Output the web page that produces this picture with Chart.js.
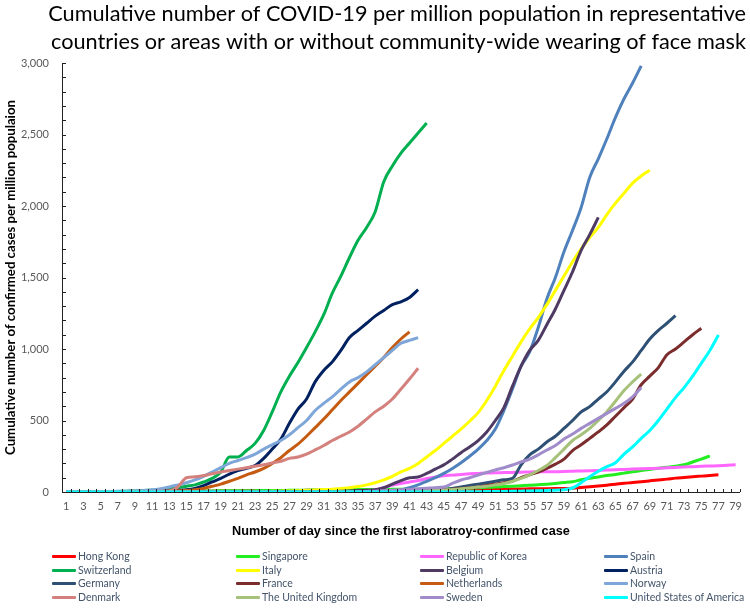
<!DOCTYPE html>
<html>
<head>
<meta charset="utf-8">
<script src="https://cdn.jsdelivr.net/npm/chart.js@4.4.1/dist/chart.umd.min.js"></script>
<style>
  html, body { margin: 0; padding: 0; background: #fff; }
  #wrap { position: relative; width: 750px; height: 608px; }
  #c { position: absolute; left: 0; top: 0; }
  #legend { position: absolute; left: 0; top: 0; width: 750px; height: 608px; pointer-events: none; }
  .item { position: absolute; display: flex; align-items: center; white-space: nowrap; color: #44546a; }
  .swatch { width: 24px; height: 3px; margin-right: 2px; border-radius: 1px; }
</style>
</head>
<body>
<div id="wrap">
  <canvas id="c" width="750" height="608"></canvas>
  <div id="legend"></div>
</div>
<script>
// ---------------- DATA ----------------
const dayLabels = ['1','2','3','4','5','6','7','8','9','10','11','12','13','14','15','16','17','18','19','20',
  '21','22','23','24','25','26','27','28','29','30','31','32','33','34','35','36','37','38','39','40',
  '41','42','43','44','45','46','47','48','49','50','51','52','53','54','55','56','57','58','59','60',
  '61','62','63','64','65','66','67','68','69','70','71','72','73','74','75','76','77','78','79'];

const seriesNames = ['Hong Kong','Singapore','Republic of Korea','Spain','Switzerland','Italy','Belgium','Austria',
  'Germany','France','Netherlands','Norway','Denmark','The United Kingdom','Sweden','United States of America'];

const seriesColors = ['#ff0000','#22ee22','#ff66ff','#4f81bd','#00b050','#ffff00','#4e3a63','#002060',
  '#2f5075','#7b2c2c','#c55a11','#7ea6d8','#d4807d','#a6c27a','#a18ccb','#00ffff'];

const hongKong = [0.1,0.3,0.7,1,1.1,1.3,1.6,2,2.2,2.5, 3,3.5,3.8,4.2,4.5,5,5.5,6,6.5,7,
  7.5,8,8.5,9,9.5,10,10.5,11,11.5,12, 12.5,13,13.5,14,14.5,15,15,15.5,16,16,
  16.5,17,17,17.5,18,18,18.5,19,19.5,20, 20,20,21,21,22,22,23,24,25,27,
  32,37,42,48,54,61,66,72,78,84, 90,97,102,107,111,115,120];

const singapore = [0.2,0.5,0.5,0.7,0.7,1,1.2,1.5,2,2.5, 3,3.5,4.5,5,5.5,6.5,7,7.5,8,8.5,
  9,9,9.5,10,10.5,11,11.5,12,13,14, 15,15.5,16,16.5,17,17,17.5,18,18.5,19,
  19.5,20,21,22,23,24,26,28,30,33, 35,38,41,44,47,51,55,60,66,72,
  85,96,105,115,123,132,141,150,158,166, 173,180,190,210,230,252];

const korea = [0,0,0,0.1,0.1,0.1,0.1,0.2,0.2,0.2, 0.3,0.3,0.4,0.5,0.5,0.5,0.5,0.5,0.5,0.5,
  0.5,0.5,0.6,0.6,0.6,0.6,0.6,0.6,0.6,0.6, 1,2,3,4,6,10,15,30,48,60,
  70,80,95,105,113,118,123,127,130,133, 134,136,137,138,140,141,141,142,143,145,
  147,149,151,153,155,158,160,162,164,166, 169,172,175,177,180,182,184,187,190];

const spain = [0,0,0,0,0,0,0,0,0,0, 0,0,0,0,0,0,0,0,0,0,
  0.05,0.05,0.05,0.05,0.05,0.05,0.05,0.05,0.05,0.05, 0.1,0.2,0.3,0.5,1,2,3,5,8,15,
  30,50,75,100,130,165,205,250,300,360, 440,570,720,880,980,1150,1350,1500,1680,1830,
  1990,2200,2330,2470,2620,2750,2860,2980];

const switzerland = [0.1,0.1,1,1.5,2,2.5,4,6,7,10, 13,16,22,30,40,50,70,95,140,245,
  245,290,340,430,560,700,810,905,1010,1120, 1240,1390,1510,1640,1760,1850,1960,2170,2280,2370,
  2440,2510,2580];

const italy = [0.05,0.05,0.05,0.05,0.05,0.05,0.05,0.05,0.05,0.05, 0.05,0.05,0.05,0.05,0.05,0.05,0.05,0.05,0.05,0.05,
  0.3,1,2,3,5,6,7,9,11,14, 17,20,25,30,38,50,65,85,110,140,
  165,200,245,290,340,390,440,495,555,640, 740,850,950,1050,1140,1220,1310,1410,1510,1610,
  1700,1780,1850,1940,2020,2090,2160,2210,2250];

const belgium = [0.09,0.09,0.09,0.09,0.09,0.09,0.09,0.09,0.09,0.09, 0.09,0.09,0.09,0.09,0.09,0.09,0.09,0.09,0.09,0.09,
  0.09,0.09,0.09,0.09,0.09,0.1,0.2,0.5,0.7,1, 2,3,5,7,10,12,15,30,55,80,
  100,105,130,160,190,230,275,315,360,420, 500,590,740,880,990,1060,1170,1280,1410,1540,
  1690,1800,1920];

const austria = [0.2,0.2,0.5,0.6,1,1.5,2,3,4,5, 6,7,9,12,15,25,45,70,95,125,
  150,165,185,235,300,370,480,580,650,770, 850,910,990,1080,1130,1180,1230,1270,1310,1330,
  1360,1415];

const germany = [0.2,0.2,0.2,0.2,0.2,0.2,0.2,0.2,0.2,0.2, 0.2,0.2,0.2,0.2,0.2,0.2,0.2,0.2,0.2,0.2,
  0.2,0.2,0.2,0.2,0.2,0.2,0.2,0.2,0.2,0.2, 0.3,0.4,0.5,0.6,0.8,1,1.5,2,3,4,
  5,7,9,12,17,25,35,45,55,65, 75,85,95,190,260,300,350,390,445,500,
  560,597,650,701,770,845,910,990,1070,1130, 1180,1233];

const france = [0.1,0.1,0.1,0.1,0.1,0.1,0.1,0.1,0.1,0.1, 0.1,0.1,0.1,0.1,0.1,0.1,0.1,0.2,0.2,0.2,
  0.2,0.2,0.2,0.2,0.2,0.2,0.2,0.2,0.2,0.2, 0.2,0.2,0.3,0.5,0.8,1,1.5,2,3,4,
  5,7,9,12,15,20,25,30,35,45, 55,65,75,100,120,140,165,195,230,290,
  330,375,420,469,530,590,650,750,810,870, 960,1000,1050,1100,1145];

const netherlands = [0.1,0.1,0.4,0.6,1,1.4,2,2.5,3,4, 5,6,6.5,8,10,15,25,40,55,75,
  95,120,140,165,200,240,290,335,390,450, 510,575,640,700,760,820,880,940,1010,1070,
  1120];

const norway = [0.2,0.5,1,1.5,2,3,5,6,7,10, 15,22,35,50,65,85,110,140,170,200,
  220,240,265,300,330,360,400,450,500,570, 620,665,720,770,800,840,890,940,990,1040,
  1060,1080];

const denmark = [0.2,0.2,0.3,0.5,0.5,0.6,0.8,1.2,1.7,2.5, 3,5,7,35,100,106,115,128,140,150,
  160,170,180,190,203,215,235,245,265,294, 325,360,390,420,460,510,560,600,650,720,
  790,865];

const unitedKingdom = [0,0,0,0,0,0,0,0,0.1,0.1, 0.1,0.1,0.1,0.1,0.1,0.1,0.1,0.1,0.1,0.1,
  0.2,0.2,0.2,0.2,0.2,0.2,0.2,0.2,0.2,0.2, 0.3,0.4,0.5,0.7,1,1.3,1.8,2.5,3,4,
  5,6.5,8,11,14,17,22,28,35,40, 50,60,75,95,120,150,185,240,300,360,
  400,445,500,562,635,710,770,825];

const sweden = [0.1,0.1,0.1,0.1,0.1,0.1,0.1,0.1,0.1,0.1, 0.1,0.1,0.1,0.1,0.1,0.1,0.1,0.1,0.1,0.1,
  0.1,0.1,0.1,0.1,0.1,0.1,0.1,0.1,0.1,0.1, 0.2,0.3,0.5,1,2,4,6,9,12,15,
  18,22,26,30,35,60,84,100,119,137, 154,170,189,210,230,260,294,325,370,405,
  445,480,515,550,585,620,665,730];

const usa = [0,0,0,0,0,0,0,0,0,0, 0,0,0,0,0,0,0,0,0,0,
  0,0,0,0,0,0,0,0,0,0, 0.05,0.05,0.05,0.05,0.05,0.05,0.05,0.05,0.05,0.05,
  0.1,0.2,0.3,0.4,0.5,0.7,1,1.5,2,3, 3,4,5,6,7,9,11,13,16,28,
  65,107,145,177,205,265,315,375,430,500, 580,660,730,810,900,990,1098];

const seriesValues = [hongKong, singapore, korea, spain, switzerland, italy, belgium, austria,
  germany, france, netherlands, norway, denmark, unitedKingdom, sweden, usa];

const yTickStep = 500;
const yMax = 3000;

const titleLines = ['Cumulative number of COVID-19 per million population in representative',
  'countries or areas with or without community-wide wearing of face mask'];
const xTitle = 'Number of day since the first laboratroy-confirmed case';
const yTitle = 'Cumulative number of confirmed cases per million populaion';

// ---------------- font fitting helpers ----------------
const mctx = document.createElement('canvas').getContext('2d');
function fit(text, family, weight, target) {
  mctx.font = weight + ' 100px ' + family;
  const w = mctx.measureText(text).width;
  return Math.round(100 * target / w * 10) / 10;
}
const titleFamily = "Lato, 'Open Sans', sans-serif";
const boldFamily = "'Liberation Sans Narrow', 'Liberation Sans', Arial, sans-serif";
const titleSize = fit(titleLines[0], titleFamily, 'normal', 698);
const xTitleSize = fit(xTitle, boldFamily, 'bold', 338);
const yTitleSize = fit(yTitle, titleFamily, 'bold', 356);
const legendSize = fit('United States of America', titleFamily, 'normal', 115);

// ---------------- chart ----------------
const datasets = seriesNames.map((name, i) => ({
  label: name,
  data: seriesValues[i],
  borderColor: seriesColors[i],
  backgroundColor: seriesColors[i],
  borderWidth: 3,
  pointRadius: 0,
  fill: false,
  cubicInterpolationMode: 'monotone',
  order: seriesNames.length - 1 - i
}));

const innerTicks = {
  id: 'innerTicks',
  afterDatasetsDraw(chart) {
    const { ctx, chartArea: { left, right, bottom }, scales: { x, y } } = chart;
    ctx.save();
    ctx.strokeStyle = '#222';
    ctx.lineWidth = 1;
    ctx.beginPath();
    for (let v = 0; v <= yMax; v += 100) {
      const py = Math.round(y.getPixelForValue(v)) + 0.5;
      ctx.moveTo(left, py); ctx.lineTo(left + 4, py);
    }
    const n = x.getLabels().length;
    const w = (right - left) / n;
    for (let i = 1; i <= n; i++) {
      const px = Math.round(left + i * w) + 0.5;
      ctx.moveTo(px, bottom); ctx.lineTo(px, bottom - 3);
    }
    ctx.stroke();
    ctx.restore();
  }
};

new Chart(document.getElementById('c'), {
  type: 'line',
  data: { labels: dayLabels, datasets },
  options: {
    responsive: false,
    animation: false,
    devicePixelRatio: 1,
    layout: { padding: { left: 0, right: 4, top: 0, bottom: 69 } },
    plugins: {
      legend: { display: false },
      tooltip: { enabled: false },
      title: {
        display: true,
        text: titleLines,
        align: 'end',
        color: '#000',
        font: { family: titleFamily, size: titleSize, weight: 'normal', lineHeight: 28 / titleSize },
        padding: { top: 0, bottom: 7 }
      }
    },
    scales: {
      x: {
        type: 'category',
        offset: true,
        grid: { display: true, drawOnChartArea: false, drawTicks: false },
        border: { display: true, color: '#222', width: 1 },
        ticks: {
          autoSkip: false, maxRotation: 0, minRotation: 0, padding: 8,
          color: '#595959', font: { family: titleFamily, size: 11 },
          callback: (val, idx) => (idx % 2 === 0 ? dayLabels[idx] : '')
        },
        title: {
          display: true, text: xTitle, color: '#000',
          font: { family: boldFamily, size: xTitleSize, weight: 'bold' },
          padding: { top: 10, bottom: 0 }
        },
        afterFit(scale) { scale.height = 47; }
      },
      y: {
        min: 0, max: yMax,
        grid: { display: true, drawOnChartArea: false, drawTicks: false },
        border: { display: true, color: '#222', width: 1 },
        ticks: {
          stepSize: yTickStep, padding: 13,
          color: '#595959', font: { family: titleFamily, size: 11 },
          callback: v => v.toLocaleString('en-US')
        },
        title: {
          display: true, text: yTitle, color: '#000',
          font: { family: titleFamily, size: yTitleSize, weight: 'bold' },
          padding: { top: 3, bottom: 0 }
        },
        afterFit(scale) { scale.width = 62; }
      }
    }
  },
  plugins: [innerTicks]
});

// ---------------- HTML legend (4 columns) ----------------
const legend = document.getElementById('legend');
const colX = [52, 236, 420, 604];
const rowY = [556, 570, 583, 597];
seriesNames.forEach((name, i) => {
  const el = document.createElement('div');
  el.className = 'item';
  el.style.left = colX[i % 4] + 'px';
  el.style.top = (rowY[Math.floor(i / 4)] - 9) + 'px';
  el.style.height = '18px';
  el.style.font = legendSize + 'px ' + titleFamily;
  const sw = document.createElement('span');
  sw.className = 'swatch';
  sw.style.background = seriesColors[i];
  const tx = document.createElement('span');
  tx.textContent = name;
  el.appendChild(sw); el.appendChild(tx);
  legend.appendChild(el);
});
</script>
</body>
</html>
